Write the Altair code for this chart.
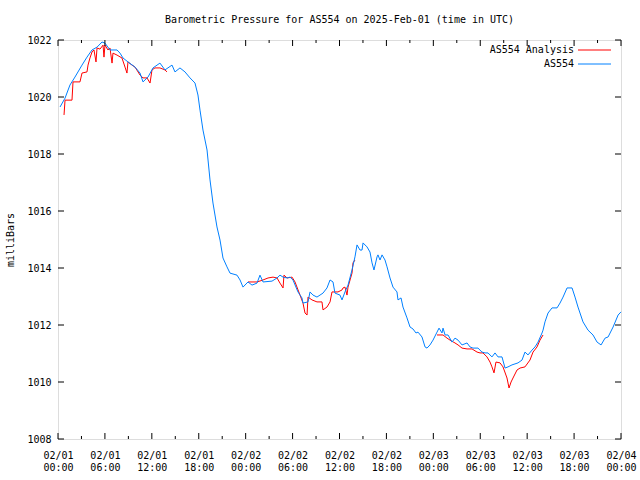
import altair as alt
import pandas as pd

# ---- data (hours after 2025-02-01 00:00 UTC, pressure in millibars) ----
blue_hours = [0.26, 0.90, 1.53, 2.17, 3.07, 3.71, 4.35, 4.99, 5.63, 6.01, 6.65, 7.55, 7.93, 8.31, 8.95,
              9.85, 10.49, 10.87, 11.51, 12.15, 13.04, 13.68, 14.58, 14.96, 15.60, 16.24, 16.88, 17.52,
              17.90, 18.16, 18.54, 19.06, 19.44, 19.82, 20.33, 20.72, 21.10, 21.61, 22.00, 22.89, 23.28,
              23.66, 24.30, 24.81, 25.45, 25.83, 26.22, 27.37, 28.01, 28.39, 28.78, 29.29, 29.67, 30.05,
              30.69, 31.20, 31.33, 31.97, 32.23, 32.61, 33.12, 33.51, 33.89, 34.40, 34.79, 35.17, 35.42,
              36.06, 36.32, 36.70, 37.09, 37.60, 37.98, 38.24, 38.62, 38.88, 39.01, 39.52, 39.90, 40.16,
              40.41, 40.80, 40.92, 41.18, 41.44, 41.82, 42.08, 42.46, 42.84, 43.35, 43.48, 43.87, 44.12,
              44.63, 45.02, 45.40, 45.78, 46.04, 46.55, 46.94, 47.19, 47.57, 47.96, 48.47, 48.73, 49.11,
              49.24, 49.50, 49.88, 50.39, 50.77, 51.16, 51.67, 52.31, 52.69, 53.07, 53.71, 54.22, 54.61,
              54.99, 55.50, 55.89, 56.27, 56.78, 57.17, 57.55, 58.06, 58.83, 59.34, 59.72, 60.11, 60.62,
              61.00, 61.39, 61.90, 62.03, 62.28, 62.67, 63.18, 63.82, 64.20, 64.59, 65.10, 65.74, 66.12,
              66.50, 67.14, 67.78, 68.42, 68.94, 69.45, 69.96, 70.35, 70.99, 71.63, 72.00]
blue_mbar = [1019.65, 1019.96, 1020.42, 1020.70, 1021.12, 1021.40, 1021.65, 1021.75, 1021.93, 1021.89,
             1021.65, 1021.65, 1021.54, 1021.37, 1021.23, 1021.05, 1020.84, 1020.53, 1020.70, 1021.02,
             1021.19, 1020.95, 1021.12, 1020.88, 1021.02, 1020.88, 1020.67, 1020.49, 1020.07, 1019.54,
             1018.84, 1018.14, 1017.09, 1016.28, 1015.44, 1014.98, 1014.35, 1014.04, 1013.82, 1013.75,
             1013.58, 1013.33, 1013.51, 1013.40, 1013.47, 1013.75, 1013.51, 1013.54, 1013.65, 1013.75,
             1013.68, 1013.65, 1013.68, 1013.58, 1013.16, 1012.95, 1012.77, 1012.81, 1013.16, 1013.05,
             1012.98, 1013.05, 1013.12, 1013.30, 1013.58, 1013.51, 1013.12, 1013.05, 1012.88, 1013.16,
             1013.40, 1013.93, 1014.39, 1014.81, 1014.63, 1014.63, 1014.88, 1014.74, 1014.56, 1014.18,
             1013.93, 1014.39, 1014.46, 1014.28, 1014.46, 1014.28, 1014.04, 1013.65, 1013.33, 1013.16,
             1012.88, 1012.95, 1012.63, 1012.25, 1011.93, 1011.86, 1011.72, 1011.75, 1011.58, 1011.23,
             1011.19, 1011.30, 1011.47, 1011.75, 1011.89, 1011.72, 1011.89, 1011.65, 1011.65, 1011.40,
             1011.54, 1011.47, 1011.30, 1011.37, 1011.23, 1011.19, 1011.19, 1011.05, 1011.02, 1011.02,
             1010.88, 1011.02, 1010.88, 1010.88, 1010.49, 1010.53, 1010.60, 1010.67, 1010.77, 1011.05,
             1010.95, 1011.12, 1011.23, 1011.40, 1011.72, 1011.82, 1012.11, 1012.42, 1012.60, 1012.60,
             1012.77, 1012.98, 1013.30, 1013.30, 1012.98, 1012.63, 1012.11, 1011.82, 1011.65, 1011.40,
             1011.30, 1011.54, 1011.58, 1011.93, 1012.35, 1012.46]

red_hours = [0.77, 0.90, 1.79, 1.92, 2.81, 3.07, 3.71, 3.84, 4.09, 4.35, 4.60, 4.86, 4.99, 5.37, 5.76,
             5.88, 6.01, 6.39, 6.65, 6.91, 7.03, 7.55, 8.18, 8.57, 8.82, 8.95, 9.46, 9.85, 10.49, 10.87,
             11.38, 11.77, 12.02, 12.40, 13.04, 13.68, 13.94,
             24.30, 25.45, 26.22, 26.86, 27.50, 28.01, 28.39, 28.78, 28.90, 29.29, 29.93, 30.31, 30.95,
             31.33, 31.59, 31.85, 31.97, 32.48, 33.12, 33.76, 33.89, 34.40, 34.79, 35.04, 35.81, 36.32,
             36.45, 36.70, 36.96, 37.09, 37.35, 37.60, 37.73, 37.98,
             48.47, 49.24, 49.75, 50.13, 50.77, 51.16, 51.67, 52.31, 52.95, 53.59, 53.97, 54.35, 54.86,
             55.25, 55.50, 55.76, 56.01, 56.53, 56.91, 57.42, 57.68, 57.94, 58.19, 58.70, 59.09, 59.72,
             60.36, 60.75, 61.26, 61.64, 62.03]
red_mbar = [1019.37, 1019.89, 1019.89, 1020.53, 1020.53, 1020.84, 1020.88, 1021.12, 1021.37, 1021.58,
            1021.65, 1021.23, 1021.72, 1021.68, 1021.82, 1021.40, 1021.82, 1021.65, 1021.72, 1021.19,
            1021.54, 1021.47, 1021.37, 1021.05, 1020.84, 1021.23, 1021.12, 1021.05, 1020.77, 1020.67,
            1020.67, 1020.49, 1020.95, 1021.02, 1021.02, 1020.95, 1020.88,
            1013.51, 1013.51, 1013.58, 1013.65, 1013.68, 1013.65, 1013.47, 1013.30, 1013.75, 1013.65,
            1013.68, 1013.51, 1013.05, 1012.77, 1012.42, 1012.35, 1012.98, 1012.88, 1012.81, 1012.81,
            1012.53, 1012.63, 1012.81, 1013.16, 1013.16, 1013.23, 1013.30, 1013.33, 1013.05, 1013.33,
            1013.58, 1013.82, 1014.18, 1014.28,
            1011.65, 1011.65, 1011.54, 1011.47, 1011.37, 1011.30, 1011.19, 1011.16, 1011.16, 1011.05,
            1011.02, 1011.02, 1010.88, 1010.70, 1010.53, 1010.32, 1010.70, 1010.67, 1010.53, 1010.14,
            1009.79, 1010.00, 1010.14, 1010.42, 1010.49, 1010.53, 1010.77, 1011.05, 1011.23, 1011.47,
            1011.65]
red_segment = [1] * 37 + [2] * 34 + [3] * 31

x_major = list(range(0, 73, 6))
x_minor = list(range(3, 72, 6))
y_major = list(range(1008, 1023, 2))

title_text = "Barometric Pressure for AS554 on 2025-Feb-01 (time in UTC)"
legend_labels = ["AS554 Analysis", "AS554"]

# ---- styling ----
FONT = "DejaVu Sans Mono"
FS = 10
W, H = 563, 399
RED = "#ff0000"
BLUE = "#0080ff"
MAJ, MIN = 6, 3

blue_df = pd.DataFrame({"hour": blue_hours, "mbar": blue_mbar})
red_df = pd.DataFrame({"hour": red_hours, "mbar": red_mbar, "seg": red_segment})
one_df = pd.DataFrame({"k": [0]})

xs = alt.Scale(domain=[0, 72], nice=False, zero=False)
ys = alt.Scale(domain=[1008, 1022], nice=False, zero=False)

label_expr = ("['02/0' + (floor(datum.value / 24) + 1), "
              "(datum.value % 24 < 10 ? '0' : '') + (datum.value % 24) + ':00']")

x_axis = alt.Axis(values=x_major, labelExpr=label_expr, ticks=False, tickSize=0, domain=False,
                  grid=False, labelFont=FONT, labelFontSize=FS, labelColor="black", labelPadding=11,
                  labelLineHeight=12, labelBaseline="top", labelAngle=0, labelFlush=False,
                  labelOverlap=False, title=None)
y_axis = alt.Axis(values=y_major, format="d", ticks=False, tickSize=0, domain=False, grid=False,
                  labelFont=FONT, labelFontSize=FS, labelColor="black", labelPadding=7,
                  title="milliBars", titleFont=FONT, titleFontSize=FS, titleFontWeight="normal",
                  titleColor="black", titleX=-48, titleY=H / 2, titleAngle=270,
                  titleAlign="center", titleBaseline="middle")

X = lambda f: alt.X(f, scale=xs, axis=x_axis)
Y = lambda f: alt.Y(f, scale=ys, axis=y_axis)

red_line = alt.Chart(red_df).mark_line(color=RED, strokeWidth=1).encode(
    x=X("hour:Q"), y=Y("mbar:Q"), detail="seg:N",
)
blue_line = alt.Chart(blue_df).mark_line(color=BLUE, strokeWidth=1).encode(
    x=X("hour:Q"), y=Y("mbar:Q"),
)

xmaj_df = pd.DataFrame({"hour": x_major})
xmin_df = pd.DataFrame({"hour": x_minor})
ymaj_df = pd.DataFrame({"mbar": y_major})

def xticks(df, length):
    bottom = alt.Chart(df).mark_rule(color="black", strokeWidth=1).encode(
        x=X("hour:Q"), y=alt.value(H), y2=alt.value(H - length))
    top = alt.Chart(df).mark_rule(color="black", strokeWidth=1).encode(
        x=X("hour:Q"), y=alt.value(0), y2=alt.value(length))
    return [bottom, top]

ytick_left = alt.Chart(ymaj_df).mark_rule(color="black", strokeWidth=1).encode(
    y=Y("mbar:Q"), x=alt.value(0), x2=alt.value(MAJ))
ytick_right = alt.Chart(ymaj_df).mark_rule(color="black", strokeWidth=1).encode(
    y=Y("mbar:Q"), x=alt.value(W), x2=alt.value(W - MAJ))

# legend (gnuplot style: label then sample line)
leg = []
for i, (lab, col) in enumerate(zip(legend_labels, [RED, BLUE])):
    yy = 10 + 14 * i
    leg.append(alt.Chart(one_df).mark_text(align="right", baseline="middle", font=FONT,
                                           fontSize=FS, color="black").encode(
        x=alt.value(516), y=alt.value(yy), text=alt.value(lab)))
    leg.append(alt.Chart(one_df).mark_rule(color=col, strokeWidth=1).encode(
        x=alt.value(520), x2=alt.value(553), y=alt.value(yy)))

chart = alt.layer(
    red_line, blue_line, *xticks(xmaj_df, MAJ), *xticks(xmin_df, MIN), ytick_left, ytick_right, *leg
).properties(
    width=W, height=H,
    title=alt.TitleParams(text=title_text, font=FONT, fontSize=FS, fontWeight="normal",
                          color="black", anchor="middle", offset=10),
    autosize=alt.AutoSizeParams(type="none"),
    padding={"left": 58, "top": 40, "right": 19, "bottom": 41},
).configure_view(stroke="black", strokeWidth=1).configure(background="white")

chart.save("out.html", embed_options={"renderer": "svg", "actions": False})
